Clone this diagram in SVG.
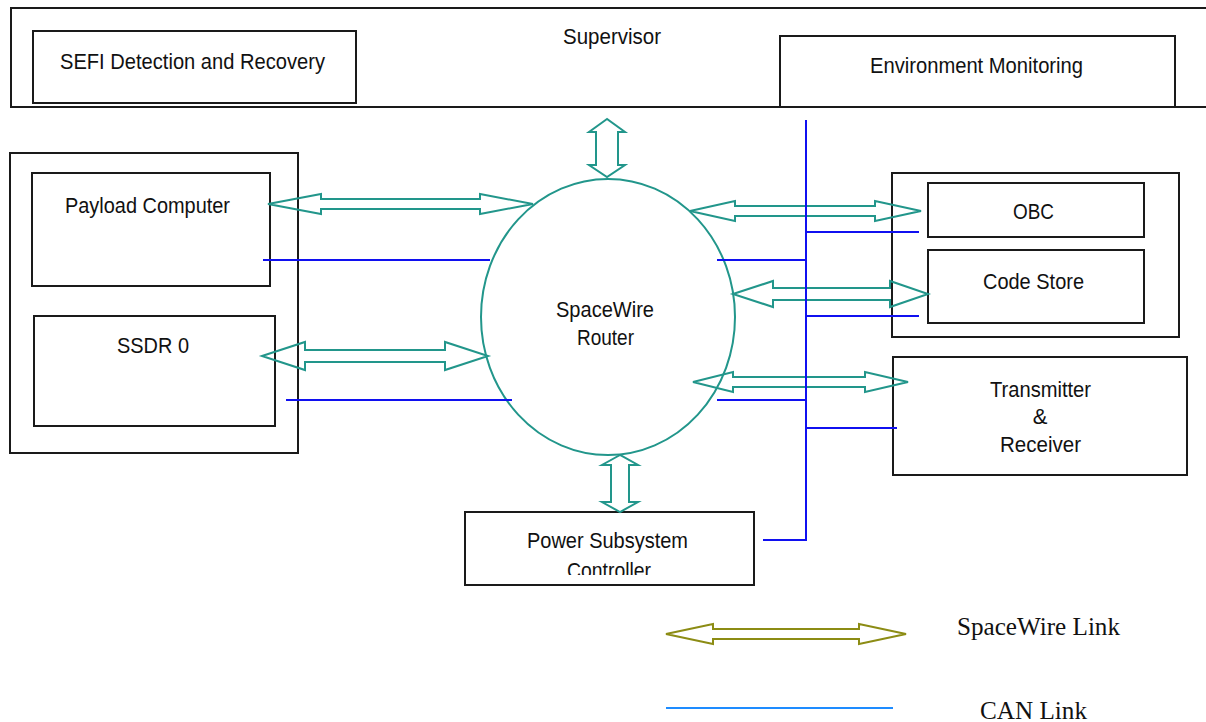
<svg xmlns="http://www.w3.org/2000/svg" width="1206" height="722" viewBox="0 0 1206 722">
<style>
.box{fill:none;stroke:#1a1a1a;stroke-width:2}
.lbl{font-family:"Liberation Sans",Arial,sans-serif;font-size:22px;fill:#111}
.sw{fill:none;stroke:#22968b;stroke-width:2;stroke-linejoin:miter}
.can{fill:none;stroke:#1010f0;stroke-width:2}
.leg{font-family:"Liberation Serif","Times New Roman",serif;font-size:25px;fill:#111}
</style>
<defs>
<clipPath id="pclip"><rect x="465" y="512" width="289" height="63"/></clipPath>
</defs>
<rect width="1206" height="722" fill="#fff"/>

<g id="supervisor">
<rect class="box" x="11" y="8" width="1200" height="99"/>
<text class="lbl" x="612" y="44" text-anchor="middle" textLength="98" lengthAdjust="spacingAndGlyphs">Supervisor</text>
</g>
<g id="sefi">
<rect class="box" x="33" y="31" width="323" height="72"/>
<text class="lbl" x="60" y="69" textLength="265" lengthAdjust="spacingAndGlyphs">SEFI Detection and Recovery</text>
</g>
<g id="env">
<rect class="box" x="780" y="36" width="395" height="71"/>
<text class="lbl" x="870" y="73" textLength="213" lengthAdjust="spacingAndGlyphs">Environment Monitoring</text>
</g>

<g id="left-group">
<rect class="box" x="10" y="153" width="288" height="300"/>
</g>
<g id="payload">
<rect class="box" x="32" y="173" width="238" height="113"/>
<text class="lbl" x="65" y="213" textLength="165" lengthAdjust="spacingAndGlyphs">Payload Computer</text>
</g>
<g id="ssdr">
<rect class="box" x="34" y="316" width="241" height="110"/>
<text class="lbl" x="117" y="353" textLength="72" lengthAdjust="spacingAndGlyphs">SSDR 0</text>
</g>

<g id="right-group">
<rect class="box" x="892" y="173" width="287" height="164"/>
</g>
<g id="obc">
<rect class="box" x="928" y="183" width="216" height="54"/>
<text class="lbl" x="1013" y="219" textLength="41" lengthAdjust="spacingAndGlyphs">OBC</text>
</g>
<g id="codestore">
<rect class="box" x="928" y="250" width="216" height="73"/>
<text class="lbl" x="983" y="289" textLength="101" lengthAdjust="spacingAndGlyphs">Code Store</text>
</g>
<g id="transceiver">
<rect class="box" x="893" y="357" width="294" height="118"/>
<text class="lbl" x="990" y="397" textLength="101" lengthAdjust="spacingAndGlyphs">Transmitter</text>
<text class="lbl" x="1040" y="424" text-anchor="middle">&amp;</text>
<text class="lbl" x="1000" y="452" textLength="81" lengthAdjust="spacingAndGlyphs">Receiver</text>
</g>

<g id="router">
<ellipse class="sw" cx="608" cy="317" rx="127" ry="138"/>
<text class="lbl" x="556" y="317" textLength="98" lengthAdjust="spacingAndGlyphs">SpaceWire</text>
<text class="lbl" x="577" y="345" textLength="57" lengthAdjust="spacingAndGlyphs">Router</text>
</g>

<g id="power">
<rect class="box" x="465" y="512" width="289" height="73"/>
<text class="lbl" x="527" y="548" textLength="161" lengthAdjust="spacingAndGlyphs">Power Subsystem</text>
<text class="lbl" x="567" y="578" textLength="84" lengthAdjust="spacingAndGlyphs" clip-path="url(#pclip)">Controller</text>
</g>

<g id="connectors">
<polygon class="sw" points="268,204 321,194 321,199 480,199 480,194 533,204 480,214 480,209 321,209 321,214"/>
<polygon class="sw" points="262,356 305,342 305,350 445,350 445,342 488,356 445,370 445,362 305,362 305,370"/>
<polygon class="sw" points="690,211 735,201 735,206 875,206 875,201 921,211 875,221 875,216 735,216 735,221"/>
<polygon class="sw" points="733,294 773,281 773,288 890,288 890,281 928,294 890,307 890,300 773,300 773,307"/>
<polygon class="sw" points="693,382 733,372 733,377 865,377 865,372 908,382 865,392 865,387 733,387 733,392"/>
<polygon class="sw" points="607,119 589,132 596,132 596,165 589,165 607,177 625,165 618,165 618,132 625,132"/>
<polygon class="sw" points="620,455 602,465 611,465 611,502 602,502 620,512 638,502 629,502 629,465 638,465"/>

<line class="can" x1="263" y1="260" x2="490" y2="260"/>
<line class="can" x1="286" y1="400" x2="512" y2="400"/>
<polyline class="can" points="806,120 806,540 763,540"/>
<line class="can" x1="806" y1="232" x2="919" y2="232"/>
<line class="can" x1="717" y1="260" x2="806" y2="260"/>
<line class="can" x1="806" y1="316" x2="919" y2="316"/>
<line class="can" x1="717" y1="400" x2="806" y2="400"/>
<line class="can" x1="806" y1="428" x2="897" y2="428"/>
</g>

<g id="legend">
<polygon fill="none" stroke="#8c8c14" stroke-width="2" points="666,634 713,624 713,629 859,629 859,624 906,634 859,644 859,639 713,639 713,644"/>
<text class="leg" x="957" y="635" textLength="163" lengthAdjust="spacingAndGlyphs">SpaceWire Link</text>
<line x1="666" y1="708" x2="893" y2="708" stroke="#1e8cff" stroke-width="2"/>
<text class="leg" x="980" y="719" textLength="107" lengthAdjust="spacingAndGlyphs">CAN Link</text>
</g>
</svg>
